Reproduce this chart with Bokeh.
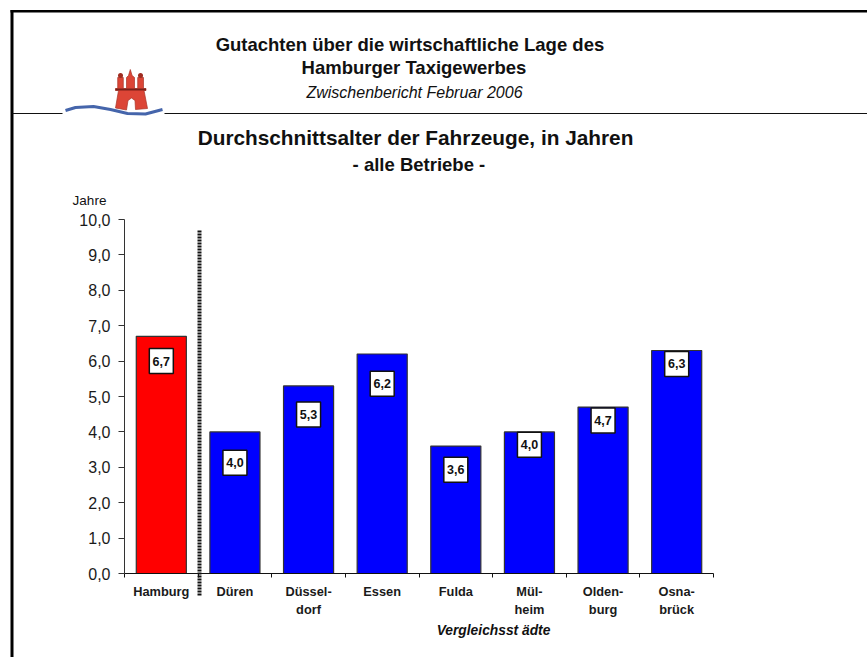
from bokeh.plotting import figure
from bokeh.models import FixedTicker
from bokeh.core.properties import value
from bokeh.embed import file_html
from bokeh.resources import INLINE

categories = ["Hamburg", "Düren", "Düssel-\ndorf", "Essen", "Fulda", "Mül-\nheim", "Olden-\nburg", "Osna-\nbrück"]
values = [6.7, 4.0, 5.3, 6.2, 3.6, 4.0, 4.7, 6.3]
value_labels = ["6,7", "4,0", "5,3", "6,2", "3,6", "4,0", "4,7", "6,3"]
label_heights = [6.0, 3.13, 4.49, 5.36, 2.93, 3.64, 4.32, 5.92]
colors = ["#ff0000", "#0000ff", "#0000ff", "#0000ff", "#0000ff", "#0000ff", "#0000ff", "#0000ff"]
y_ticks = [0, 1, 2, 3, 4, 5, 6, 7, 8, 9, 10]

FONT = "Liberation Sans"
W, H = 867, 657
L, R, T, B = 124, 713, 219, 573   # page pixels of the axes
UX = (R - L) / len(categories)
UY = (B - T) / 10


def dx(x):
    return (x - L) / UX


def dy(y):
    return (B - y) / UY


p = figure(width=W, height=H, x_range=(dx(0), dx(W)), y_range=(dy(H), dy(0)),
           output_backend="svg", toolbar_location=None,
           min_border=0, min_border_left=0, min_border_right=0, min_border_top=0, min_border_bottom=0)
p.background_fill_color = "white"
p.outline_line_color = None
p.grid.visible = False

centers = [i + 0.5 for i in range(len(categories))]
bounds = list(range(len(categories) + 1))

p.xaxis.fixed_location = 0
p.xaxis.bounds = (0, len(categories))
p.xaxis.ticker = FixedTicker(ticks=centers, minor_ticks=bounds)
p.xaxis.major_label_overrides = dict(zip(centers, categories))
p.xaxis.major_tick_line_color = None
p.xaxis.minor_tick_line_color = "#111111"
p.xaxis.minor_tick_out = 4
p.xaxis.minor_tick_in = 0
p.xaxis.axis_line_color = "#111111"
p.xaxis.major_label_text_font = FONT
p.xaxis.major_label_text_font_style = "bold"
p.xaxis.major_label_text_font_size = "12.8px"
p.xaxis.major_label_text_color = "#1a1a1a"
p.xaxis.major_label_standoff = 4
p.xaxis.major_label_orientation = "horizontal"

p.yaxis.fixed_location = 0
p.yaxis.bounds = (0, 10)
p.yaxis.ticker = FixedTicker(ticks=y_ticks)
p.yaxis.major_label_overrides = {t: f"{t},0" for t in y_ticks}
p.yaxis.minor_tick_line_color = None
p.yaxis.major_tick_in = 0
p.yaxis.major_tick_out = 6
p.yaxis.axis_line_color = "#333333"
p.yaxis.major_tick_line_color = "#333333"
p.yaxis.major_label_text_font = FONT
p.yaxis.major_label_text_font_size = "16px"
p.yaxis.major_label_text_color = "#1a1a1a"
p.yaxis.major_label_standoff = 8

p.vbar(x=centers, top=values, bottom=0, width=0.68, fill_color=colors,
       line_color="#333333", line_width=1.2)
p.rect(x=centers, y=label_heights, width=24, height=25, width_units="screen", height_units="screen",
       fill_color="white", line_color="#111111", line_width=1.5)
p.text(x=centers, y=label_heights, text=value_labels, text_align="center", text_baseline="middle",
       text_font=value(FONT), text_font_style="bold", text_font_size="12.5px", text_color="#111111")

# divider between Hamburg and the comparison cities
p.segment(x0=[dx(199)], x1=[dx(199)], y0=[dy(595)], y1=[dy(229)],
          line_color="#111111", line_width=4, line_dash="2 1")


def txt(s, x, y, size, style="normal", align="center", color="#111111"):
    p.text(x=[dx(x)], y=[dy(y)], text=[s], text_font=value(FONT), text_font_size=size, text_font_style=style,
           text_align=align, text_baseline="middle", text_color=color)


def box(l, r, t, b, color="#000000"):
    p.quad(left=[dx(l)], right=[dx(r)], top=[dy(t)], bottom=[dy(b)], fill_color=color, line_color=None)


def poly(pts, fill, line=None, lw=1):
    p.patch(x=[dx(a) for a, _ in pts], y=[dy(b) for _, b in pts], fill_color=fill, line_color=line, line_width=lw)


# page frame
box(10, 867, 9.5, 12)
box(10, 13, 9.5, 657)
# rule under the header, interrupted by the logo
box(12, 62, 112.5, 113.5, "#111111")
box(164, 867, 112.5, 113.5, "#111111")

# logo
poly([(115, 107.5), (118, 90), (115, 90), (115, 88), (117.2, 88), (117.2, 77), (122.8, 77), (122.8, 88), (126, 88),
      (126, 77), (128, 75), (129.8, 69), (131.6, 75), (134, 77), (134, 88), (137.2, 88), (137.2, 77), (143, 77),
      (143, 88), (145.5, 88), (145.5, 90), (143.5, 90), (147, 108), (135, 109), (134.5, 100), (131, 97.5), (127.5, 100),
      (126, 109.5)],
     "#dc4536", "#a8352a", 0.7)
box(115, 145.5, 88, 90, "#7a2018")
p.scatter(x=[dx(120), dx(140)], y=[dy(75), dy(75)], marker="circle", size=5, fill_color="#a02c20", line_color=None)
wave = [(65, 110), (75, 107), (93, 106), (110, 109), (127, 113), (145, 113.5), (162, 109)]
p.line(x=[dx(a) for a, _ in wave], y=[dy(b) for _, b in wave], line_color="#4565ab", line_width=3)

# texts
txt("Gutachten  über die wirtschaftliche Lage des", 412, 44, "18.5px", "bold")
txt("Hamburger Taxigewerbes", 413.5, 67, "18.5px", "bold")
txt("Zwischenbericht Februar 2006", 414, 92, "16px", "italic")
txt("Durchschnittsalter der Fahrzeuge, in Jahren", 415, 137, "20.8px", "bold")
txt("- alle Betriebe  -", 421, 164, "18.5px", "bold")
txt("Jahre", 89, 200, "13.5px")
txt("Vergleichsst ädte", 493, 630, "13.8px", "bold italic")

open("out.html", "w").write(file_html(p, INLINE))
